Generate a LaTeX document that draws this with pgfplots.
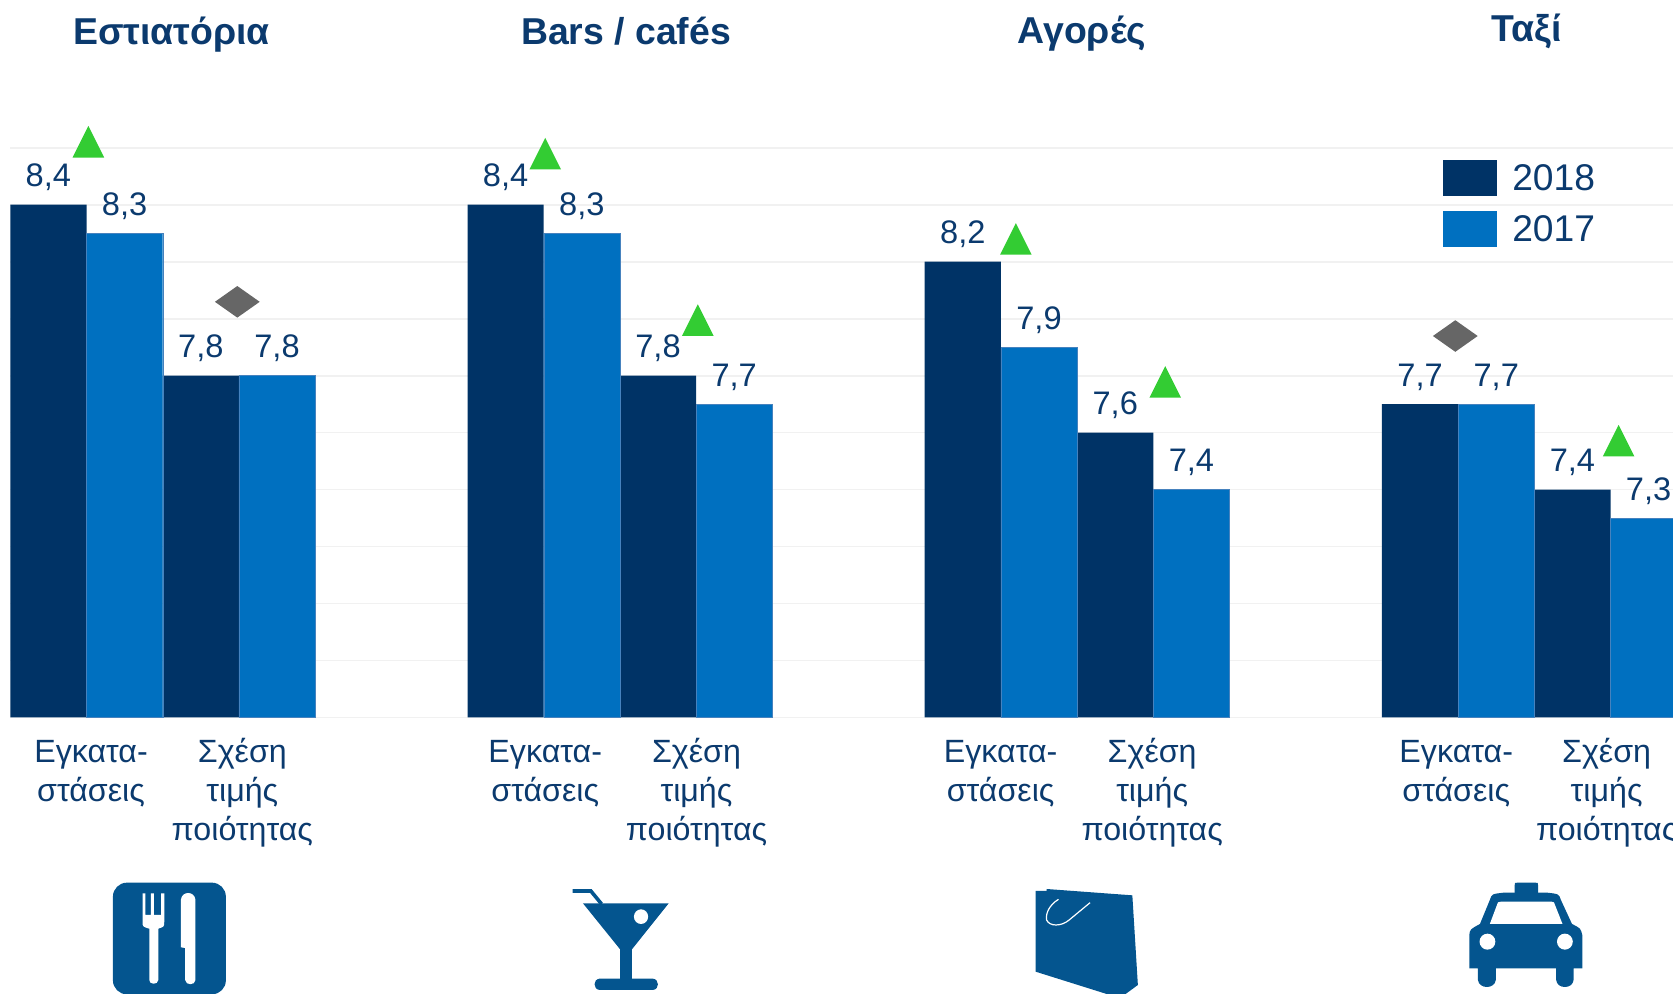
\documentclass[border=0pt]{standalone}
\usepackage{fontspec}
\setmainfont{Liberation Sans}
\usepackage{pgfplots}
\pgfplotsset{compat=1.18}
\definecolor{navy}{HTML}{003366}
\definecolor{bleu}{HTML}{0070C0}
\definecolor{txt}{HTML}{0B3A6E}
\definecolor{ico}{HTML}{04558F}
\definecolor{upg}{HTML}{33CC33}
\definecolor{eqg}{HTML}{666666}
\definecolor{gridc}{HTML}{F1F1F1}
\pgfdeclareplotmark{uptri}{%
  \pgfpathmoveto{\pgfqpoint{-7.9pt}{-7.9pt}}%
  \pgfpathlineto{\pgfqpoint{7.9pt}{-7.9pt}}%
  \pgfpathlineto{\pgfqpoint{0pt}{7.9pt}}%
  \pgfpathclose\pgfusepathqfill}
\pgfdeclareplotmark{eqdia}{%
  \pgfpathmoveto{\pgfqpoint{-11.2pt}{0pt}}%
  \pgfpathlineto{\pgfqpoint{0pt}{7.9pt}}%
  \pgfpathlineto{\pgfqpoint{11.2pt}{0pt}}%
  \pgfpathlineto{\pgfqpoint{0pt}{-7.9pt}}%
  \pgfpathclose\pgfusepathqfill}
\begin{document}
\begin{tikzpicture}
\useasboundingbox (0,0) rectangle (836.5pt,497pt);
\clip (0,0) rectangle (836.5pt,497pt);
\begin{axis}[
  at={(5.15pt,138.25pt)}, anchor=south west,
  scale only axis, width=831.35pt, height=299.145pt,
  xmin=-0.5, xmax=21.32, ymin=6.6, ymax=8.7,
  clip mode=individual,
  axis line style={draw=none},
  major tick length=0pt,
  ytick={6.6,6.8,7.0,7.2,7.4,7.6,7.8,8.0,8.2,8.4,8.6},
  yticklabels={},
  ymajorgrids, grid style={gridc, line width=0.9pt},
  xtick={0.56,2.545,6.52,8.505,12.496,14.485,18.475,20.449},
  xticklabels={{\vphantom{έ}Εγκατα-\\στάσεις},{Σχέση\\τιμής\\ποιότητας},{\vphantom{έ}Εγκατα-\\στάσεις},{Σχέση\\τιμής\\ποιότητας},{\vphantom{έ}Εγκατα-\\στάσεις},{Σχέση\\τιμής\\ποιότητας},{\vphantom{έ}Εγκατα-\\στάσεις},{Σχέση\\τιμής\\ποιότητας}},
  x tick label style={align=center, anchor=north, yshift=-7pt, text=txt,
    font=\fontsize{16.1}{19.3}\selectfont},
  legend style={at={(axis cs:18.305,8.5575)}, anchor=north west, draw=none, fill=none,
    inner sep=0pt, outer sep=0pt, row sep=7.5pt, column sep=7.5pt, text=txt,
    font=\fontsize{18.6}{18.6}\selectfont,
    nodes={inner sep=0pt, text depth=0pt}},
  legend cell align=left,
  legend image code/.code={\fill[#1,draw=none] (0pt,-9pt) rectangle (27pt,9pt);},
  nodes near coords={\pgfmathprintnumber[fixed,fixed zerofill,precision=1,use comma,assume math mode=true]{\pgfplotspointmeta}},
  every node near coord/.append style={anchor=base, yshift=8.9pt, text=txt,
    font=\fontsize{16.3}{18}\selectfont},
]
\addplot[ybar, bar shift=0pt, bar width=1, fill=navy, draw=none] coordinates {
  (0,8.4) (2,7.8) (6,8.4) (8,7.8) (12,8.2) (14,7.6) (18,7.7) (20,7.4)};
\addplot[ybar, bar shift=0pt, bar width=1, fill=bleu, draw={rgb,255:red,70;green,130;blue,190}, line width=0.2pt] coordinates {
  (1,8.3) (3,7.8) (7,8.3) (9,7.7) (13,7.9) (15,7.4) (19,7.7) (21,7.3)};
\legend{2018,2017}
\addplot[forget plot, only marks, mark=uptri, color=upg, nodes near coords={}] coordinates {
  (0.524,8.621) (6.520,8.579) (8.522,7.995) (12.696,8.280) (14.656,7.778) (20.606,7.572)};
\addplot[forget plot, only marks, mark=eqdia, color=eqg, nodes near coords={}] coordinates {
  (2.479,8.059) (18.463,7.939)};
\end{axis}
\begin{scope}[x=0.5pt,y=-0.5pt,shift={(0,497pt)}]
  \foreach \x/\y/\t in {171.5/45/Εστιατόρια,626/45/{Bars / cafés},1082/44/Αγορές,1526.5/42/Ταξί}
    \node[text=txt,anchor=base,font=\fontsize{18.7}{20}\selectfont\bfseries] at (\x,\y) {\t};
  % restaurant icon
  \begin{scope}[shift={(90,870)},xscale=.395,yscale=.3333]
    \fill[ico,rounded corners=7pt] (58,38) rectangle (344,373);
    \fill[white] (133,70) -- (140,70) -- (140,135) -- (154,135) -- (154,70) -- (162,70) -- (162,135) -- (180,135) -- (180,70) -- (188,70) -- (188,155) .. controls (188,170) .. (173,176) -- (173,330) .. controls (172,345) and (150,345) .. (150,330) -- (150,176) .. controls (133,170) .. (133,155) -- cycle;
    \fill[white] (230,90) .. controls (232,62) and (265,62) .. (267,90) -- (267,330) .. controls (266,347) and (242,347) .. (241,330) -- (241,234) -- (230,232) -- cycle;
    % cocktail
    \fill[ico] (1248,100) -- (1465,100) -- (1372,238) -- (1372,326) -- (1425,326) .. controls (1442,328) and (1442,358) .. (1425,360) -- (1290,360) .. controls (1273,358) and (1273,328) .. (1290,326) -- (1342,326) -- (1342,238) -- cycle;
    \fill[white] (1395,140) ellipse [x radius=18, y radius=22];
    \draw[ico,line width=1.8pt] (1222,63) -- (1268,63) -- (1295,102);
  \end{scope}
  \begin{scope}[shift={(1000,870)},xscale=.395,yscale=.3333]
    % bag
    \fill[ico] (90,63) -- (118,63) -- (118,57) -- (335,76) -- (349,345) -- (318,372) -- (270,372) -- (90,305) -- cycle;
    \draw[white,line width=.6pt] (148,88) .. controls (125,105) and (115,130) .. (118,150) .. controls (125,170) and (155,170) .. (175,150) -- (228,98);
    % taxi
    \fill[ico] (1303,70) -- (1303,45) .. controls (1303,38) .. (1310,38) -- (1355,38) .. controls (1362,38) .. (1362,45) -- (1362,70) -- cycle;
    \fill[ico] (1188,295) -- (1188,195) .. controls (1190,178) .. (1215,162) -- (1240,90) .. controls (1245,72) .. (1275,68) -- (1385,68) .. controls (1415,72) .. (1420,90) -- (1448,162) .. controls (1470,175) .. (1474,195) -- (1474,295) -- (1452,295) -- (1452,330) .. controls (1450,358) and (1410,358) .. (1408,330) -- (1408,295) -- (1255,295) -- (1255,330) .. controls (1253,358) and (1212,358) .. (1210,330) -- (1210,295) -- cycle;
    \fill[white] (1240,162) -- (1258,105) .. controls (1260,96) .. (1268,95) -- (1396,95) .. controls (1403,96) .. (1405,105) -- (1424,162) -- cycle;
    \fill[white] (1234,215) ellipse [x radius=20, y radius=24];
    \fill[white] (1430,215) ellipse [x radius=20, y radius=24];
  \end{scope}
\end{scope}
\end{tikzpicture}
\end{document}
